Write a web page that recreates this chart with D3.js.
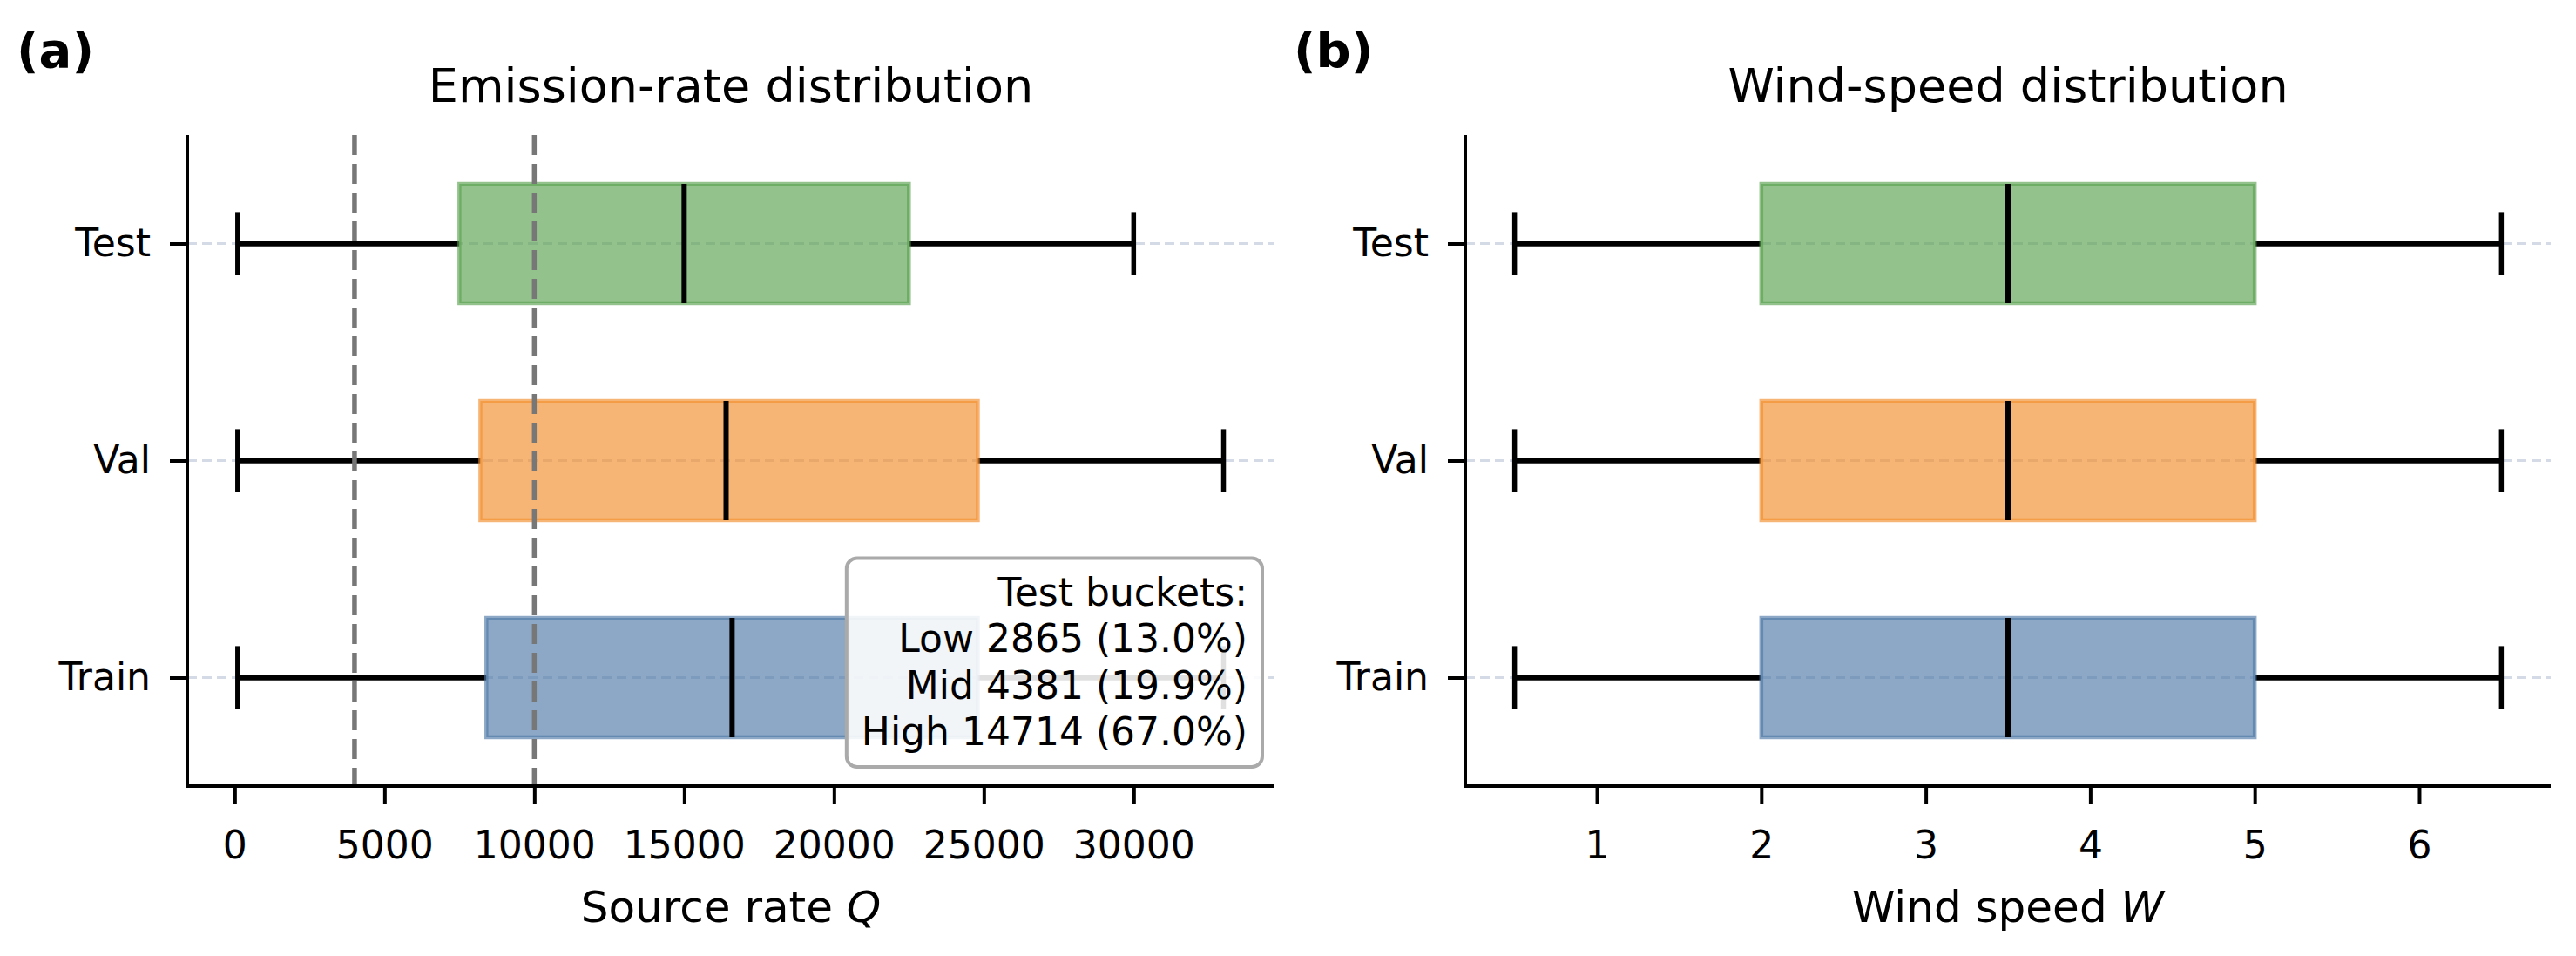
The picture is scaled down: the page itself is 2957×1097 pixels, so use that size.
<!DOCTYPE html>
<html><head><meta charset="utf-8">
<script src="https://cdn.jsdelivr.net/npm/d3@7"></script>
<style>
body{margin:0;background:#fff}
svg{display:block}
text{font-family:"DejaVu Sans",sans-serif;fill:#000}
</style>
</head><body>
<svg id="c" width="2957" height="1097"></svg>
<script>
// ---------- data ----------
const splits = ["Train", "Val", "Test"];
const splitColors = ["#4E79A7", "#F28E2B", "#59A14F"];

// Emission rate Q box stats per split (Train, Val, Test)
const qWhiskerLow = [100, 100, 100];
const qQ1 = [8400, 8200, 7500];
const qMedian = [16600, 16400, 15000];
const qQ3 = [24800, 24800, 22500];
const qWhiskerHigh = [33000, 33000, 30000];
const qTicks = [0, 5000, 10000, 15000, 20000, 25000, 30000];
const qThresholds = [4000, 10000];

// Wind speed W box stats per split (Train, Val, Test)
const wWhiskerLow = [0.5, 0.5, 0.5];
const wQ1 = [2, 2, 2];
const wMedian = [3.5, 3.5, 3.5];
const wQ3 = [5, 5, 5];
const wWhiskerHigh = [6.5, 6.5, 6.5];
const wTicks = [1, 2, 3, 4, 5, 6];

const bucketLines = ["Test buckets:", "Low 2865 (13.0%)", "Mid 4381 (19.9%)", "High 14714 (67.0%)"];

// ---------- layout ----------
const svg = d3.select("#c");
const TOP = 155, BOTTOM = 902;
const TICK_FS = 44, TITLE_FS = 54, LABEL_FS = 50;

function panel(o) {
  const g = svg.append("g");
  const x = d3.scaleLinear().domain(o.domain).range([o.left, o.right]);
  const y = d3.scaleLinear().domain([0.5, 3.5]).range([BOTTOM, TOP]);
  const boxH = y(0) - y(0.55);
  const capH = y(0) - y(0.29);

  // grid (y)
  g.append("g").selectAll("line").data(splits).join("line")
    .attr("x1", o.left).attr("x2", o.right)
    .attr("y1", (d, i) => y(i + 1)).attr("y2", (d, i) => y(i + 1))
    .attr("stroke", "#d5dbe6").attr("stroke-width", 3).attr("stroke-dasharray", "11,6");

  const idx = d3.range(splits.length);
  // whiskers
  g.append("g").selectAll("line").data(idx).join("line")
    .attr("x1", i => x(o.lo[i])).attr("x2", i => x(o.q1[i]))
    .attr("y1", i => y(i + 1)).attr("y2", i => y(i + 1))
    .attr("stroke", "#000").attr("stroke-width", 6.5);
  g.append("g").selectAll("line").data(idx).join("line")
    .attr("x1", i => x(o.q3[i])).attr("x2", i => x(o.hi[i]))
    .attr("y1", i => y(i + 1)).attr("y2", i => y(i + 1))
    .attr("stroke", "#000").attr("stroke-width", 6.5);
  // caps
  ["lo", "hi"].forEach(k => {
    g.append("g").selectAll("line").data(idx).join("line")
      .attr("x1", i => x(o[k][i])).attr("x2", i => x(o[k][i]))
      .attr("y1", i => y(i + 1) - capH / 2).attr("y2", i => y(i + 1) + capH / 2)
      .attr("stroke", "#000").attr("stroke-width", 5.5);
  });
  // boxes
  g.append("g").selectAll("rect").data(idx).join("rect")
    .attr("x", i => x(o.q1[i])).attr("width", i => x(o.q3[i]) - x(o.q1[i]))
    .attr("y", i => y(i + 1) - boxH / 2).attr("height", boxH)
    .attr("fill", i => splitColors[i]).attr("fill-opacity", 0.65)
    .attr("stroke", i => splitColors[i]).attr("stroke-opacity", 0.65).attr("stroke-width", 4.5);
  // medians
  g.append("g").selectAll("line").data(idx).join("line")
    .attr("x1", i => x(o.med[i])).attr("x2", i => x(o.med[i]))
    .attr("y1", i => y(i + 1) - boxH / 2).attr("y2", i => y(i + 1) + boxH / 2)
    .attr("stroke", "#000").attr("stroke-width", 6);

  // threshold lines
  if (o.thresholds) {
    g.append("g").selectAll("line").data(o.thresholds).join("line")
      .attr("x1", d => x(d)).attr("x2", d => x(d))
      .attr("y1", TOP).attr("y2", BOTTOM)
      .attr("stroke", "#777").attr("stroke-width", 5.5).attr("stroke-dasharray", "23,10");
  }

  // axes
  const xa = g.append("g").attr("transform", `translate(0,${BOTTOM})`)
    .call(d3.axisBottom(x).tickValues(o.ticks).tickFormat(d3.format("d")).tickSize(21).tickPadding(31).tickSizeOuter(0));
  xa.select(".domain").attr("stroke", "#000").attr("stroke-width", 4)
    .attr("d", `M${o.left - 2},0H${o.right}`);
  xa.selectAll(".tick line").attr("stroke", "#000").attr("stroke-width", 4);
  xa.selectAll(".tick text").attr("font-size", TICK_FS).attr("font-family", "DejaVu Sans").attr("fill", "#000");

  const ya = g.append("g").attr("transform", `translate(${o.left},0)`)
    .call(d3.axisLeft(y).tickValues([1, 2, 3]).tickFormat(d => splits[d - 1]).tickSize(20).tickPadding(22).tickSizeOuter(0));
  ya.select(".domain").attr("stroke", "#000").attr("stroke-width", 4)
    .attr("d", `M0,${TOP}V${BOTTOM + 2}`);
  ya.selectAll(".tick line").attr("stroke", "#000").attr("stroke-width", 4);
  ya.selectAll(".tick text").attr("font-size", TICK_FS).attr("font-family", "DejaVu Sans").attr("fill", "#000");

  // title
  g.append("text").attr("x", (o.left + o.right) / 2).attr("y", 117)
    .attr("text-anchor", "middle").attr("font-size", TITLE_FS).text(o.title);
  // x label
  const xl = g.append("text").attr("x", (o.left + o.right) / 2).attr("y", 1058)
    .attr("text-anchor", "middle").attr("font-size", LABEL_FS);
  xl.append("tspan").text(o.xlabel + " ");
  xl.append("tspan").attr("font-style", "italic").text(o.xvar);
  // panel letter
  g.append("text").attr("x", o.letterX).attr("y", 77).attr("font-size", 56)
    .attr("font-weight", "bold").text(o.letter);

  // legend text box
  if (o.legend) {
    const lg = g.append("g");
    const rightX = o.right - 31;
    const lineH = 53.5;
    const lastBase = 855;
    const bg = lg.append("rect");
    const t = lg.append("text").attr("text-anchor", "end").attr("font-size", TICK_FS);
    o.legend.forEach((s, i) => {
      t.append("tspan").attr("x", rightX).attr("y", lastBase - (o.legend.length - 1 - i) * lineH).text(s);
    });
    const bb = t.node().getBBox();
    const pad = 17;
    bg.attr("x", bb.x - pad).attr("y", bb.y - pad + 4)
      .attr("width", bb.width + 2 * pad).attr("height", bb.height + 2 * pad - 6)
      .attr("rx", 12).attr("ry", 12)
      .attr("fill", "#fff").attr("fill-opacity", 0.88)
      .attr("stroke", "#aaaaaa").attr("stroke-width", 4);
  }
}

panel({
  left: 215, right: 1463, domain: [-1580, 34700],
  lo: qWhiskerLow, q1: qQ1, med: qMedian, q3: qQ3, hi: qWhiskerHigh,
  ticks: qTicks, thresholds: qThresholds,
  title: "Emission-rate distribution", xlabel: "Source rate", xvar: "Q",
  letter: "(a)", letterX: 19, legend: bucketLines
});
panel({
  left: 1682, right: 2928, domain: [0.2, 6.8],
  lo: wWhiskerLow, q1: wQ1, med: wMedian, q3: wQ3, hi: wWhiskerHigh,
  ticks: wTicks,
  title: "Wind-speed distribution", xlabel: "Wind speed", xvar: "W",
  letter: "(b)", letterX: 1485
});
</script>
</body></html>
